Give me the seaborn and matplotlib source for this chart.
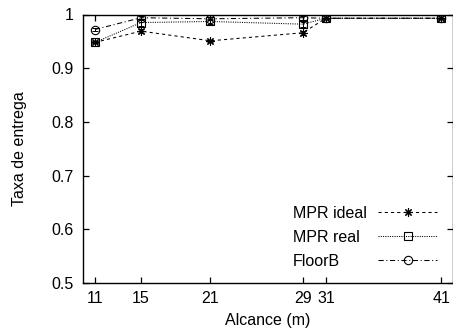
import numpy as np
import pandas as pd
import matplotlib
matplotlib.use("Agg")
import matplotlib.pyplot as plt
import seaborn as sns

# ---- data ----
alcance = [11, 15, 21, 29, 31, 41]
mpr_ideal = [0.948, 0.969, 0.951, 0.966, 0.993, 0.993]
mpr_real = [0.948, 0.985, 0.987, 0.982, 0.993, 0.993]
floorb = [0.972, 0.994, 0.992, 0.994, 0.993, 0.993]
err_ideal = [0.002, 0.004, 0.002, 0.004, 0.001, 0.001]
err_real = [0.002, 0.006, 0.004, 0.006, 0.001, 0.001]
err_floorb = [0.002, 0.004, 0.003, 0.004, 0.001, 0.001]
series_names = ["MPR ideal", "MPR real", "FloorB"]
xticks = [11, 15, 21, 29, 31, 41]
yticks = [0.5, 0.6, 0.7, 0.8, 0.9, 1.0]
yticklabels = ["0.5", "0.6", "0.7", "0.8", "0.9", "1"]

FS = 11.5

sns.set_theme(style="white")
plt.rcParams['font.family'] = ['Liberation Sans', 'DejaVu Sans']

fig = plt.figure(figsize=(4.53, 3.31), dpi=100)
ax = fig.add_axes([83.3 / 453, 48 / 331, 1 - 83.3 / 453, (283 - 14.5) / 331])

vals = [mpr_ideal, mpr_real, floorb]
errs = [err_ideal, err_real, err_floorb]
markers = [(8, 2, 0), "s", "o"]
dashes = [(3, 3), (1, 1.2), (5, 2.5, 1, 2.5)]
msizes = [6, 6, 6]

handles = []
for name, v, e, m, d, ms in zip(series_names, vals, errs, markers, dashes, msizes):
    df = pd.DataFrame({"x": alcance, "y": v})
    sns.lineplot(data=df, x="x", y="y", ax=ax, color="black", lw=0.75,
                 marker=m, markersize=ms, markerfacecolor="none",
                 markeredgecolor="black", markeredgewidth=0.8,
                 dashes=False, linestyle=(0, d), legend=False)
    handles.append(ax.lines[-1])
    ax.errorbar(alcance, v, yerr=e, fmt="none", ecolor="black",
                elinewidth=0.7, capsize=2.5, capthick=0.7)

ax.set_xlim(10, 42)
ax.set_ylim(0.5, 1.0)
ax.set_xticks(xticks)
ax.set_xticklabels([str(t) for t in xticks])
ax.set_yticks(yticks)
ax.set_yticklabels(yticklabels)
ax.tick_params(direction="in", length=4.3, width=0.9, color="black",
               labelsize=FS, labelcolor="black",
               top=True, right=True, bottom=True, left=True)
ax.tick_params(axis="y", pad=7)
ax.tick_params(axis="x", pad=6)
for s in ax.spines.values():
    s.set_color("black")
    s.set_linewidth(1.0)
    s.set_visible(True)

ax.set_xlabel("Alcance (m)", fontsize=FS, color="black")
ax.set_ylabel("Taxa de entrega", fontsize=FS, color="black")
ax.xaxis.set_label_coords(0.5, -0.113)
ax.yaxis.set_label_coords(-0.152, 0.5)

# legend: samples on the right, labels left-aligned
leg = ax.legend(handles=handles, labels=[""] * 3, loc="upper left",
                bbox_to_anchor=(378 / 453, 1 - 206 / 331),
                bbox_transform=fig.transFigure, frameon=False,
                fontsize=FS, handlelength=3.7, handletextpad=0,
                labelspacing=0.56, borderpad=0, borderaxespad=0)
rows_y = [213, 238, 262]
for name, yy in zip(series_names, rows_y):
    fig.text(293 / 453, 1 - yy / 331, name, fontsize=FS, color="black",
             ha="left", va="center")

fig.savefig("out.png", dpi=100)
